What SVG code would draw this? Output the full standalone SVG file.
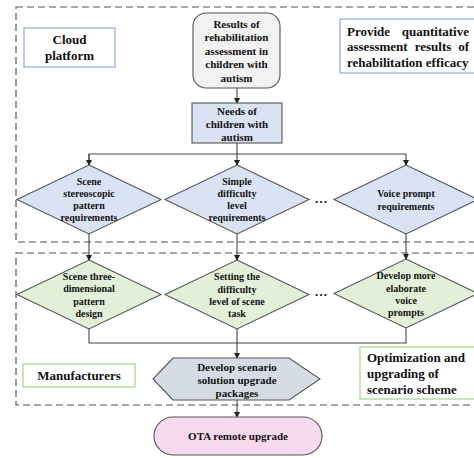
<svg xmlns="http://www.w3.org/2000/svg" width="474" height="458" viewBox="0 0 474 458">
<defs>
<marker id="ah" markerWidth="6" markerHeight="6" refX="5" refY="3" orient="auto" markerUnits="userSpaceOnUse">
<path d="M0,0 L6,3 L0,6 Z" fill="#222"/>
</marker>
<style>
text{font-family:"Liberation Serif","Times New Roman",serif;font-weight:bold;fill:#111;text-anchor:middle}
.dash{fill:none;stroke:#555;stroke-width:1.2;stroke-dasharray:7 4}
.lab{fill:#fff;stroke-width:1.2}
.blue{stroke:#8faadc}
.green{stroke:#a9d18e}
.node{stroke:#555;stroke-width:1.1}
.conn{fill:none;stroke:#444;stroke-width:1.1}
.t10{font-size:10px}
.t11{font-size:11px}
.t13{font-size:13px}
.st{text-anchor:start}
.en{text-anchor:end}
</style>
</defs>
<rect width="474" height="458" fill="#fff"/>
<g id="regions">
<rect class="dash" x="16" y="7" width="470" height="235"/>
<rect class="dash" x="16" y="253" width="470" height="152"/>
</g>
<g id="cloud-label">
<rect class="lab blue" x="24" y="28" width="91" height="39"/>
<text class="t13" x="69.5" y="44">Cloud</text>
<text class="t13" x="69.5" y="60">platform</text>
</g>
<g id="provide-label">
<rect class="lab blue" x="340" y="19" width="140" height="54"/>
<text class="t13 st" x="347" y="36">Provide</text>
<text class="t13 en" x="469" y="36">quantitative</text>
<text class="t13 st" x="347" y="51">assessment</text>
<text class="t13" x="433" y="51">results</text>
<text class="t13 en" x="469" y="51">of</text>
<text class="t13 st" x="347" y="67">rehabilitation efficacy</text>
</g>
<g id="manufacturers-label">
<rect class="lab green" x="23" y="364" width="112" height="23"/>
<text class="t13" x="79" y="380">Manufacturers</text>
</g>
<g id="optimization-label">
<rect class="lab green" x="360" y="347" width="120" height="52"/>
<text class="t13 st" x="367" y="362">Optimization and</text>
<text class="t13 st" x="367" y="378">upgrading of</text>
<text class="t13 st" x="367" y="394">scenario scheme</text>
</g>
<g id="connectors">
<line class="conn" x1="237" y1="88" x2="237" y2="103" marker-end="url(#ah)"/>
<line class="conn" x1="237" y1="143" x2="237" y2="165" marker-end="url(#ah)"/>
<polyline class="conn" points="89,165 89,154 406,154 406,165" marker-end="url(#ah)"/>
<path class="conn" d="M89,154 V165" marker-end="url(#ah)"/>
<line class="conn" x1="89" y1="234" x2="89" y2="260" marker-end="url(#ah)"/>
<line class="conn" x1="237" y1="234" x2="237" y2="260" marker-end="url(#ah)"/>
<line class="conn" x1="406" y1="234" x2="406" y2="259" marker-end="url(#ah)"/>
<polyline class="conn" points="89,329 89,343 406,343 406,328"/>
<line class="conn" x1="237" y1="329" x2="237" y2="358" marker-end="url(#ah)"/>
<line class="conn" x1="237" y1="400" x2="237" y2="417" marker-end="url(#ah)"/>
</g>
<g id="results">
<rect class="node" x="193" y="13" width="87" height="75" rx="13" fill="#f2f2f2"/>
<text class="t11" x="236.5" y="28">Results of</text>
<text class="t11" x="236.5" y="41">rehabilitation</text>
<text class="t11" x="236.5" y="55">assessment in</text>
<text class="t11" x="236.5" y="68">children with</text>
<text class="t11" x="236.5" y="82">autism</text>
</g>
<g id="needs">
<rect class="node" x="192" y="103" width="90" height="40" fill="#dae3f3"/>
<text class="t11" x="237" y="115">Needs of</text>
<text class="t11" x="237" y="128">children with</text>
<text class="t11" x="237" y="141">autism</text>
</g>
<g id="req-scene">
<polygon class="node" points="89,165 161,199.5 89,234 17,199.5" fill="#dae3f3"/>
<text class="t10" x="89" y="185">Scene</text>
<text class="t10" x="89" y="197">stereoscopic</text>
<text class="t10" x="89" y="209">pattern</text>
<text class="t10" x="89" y="221">requirements</text>
</g>
<g id="req-difficulty">
<polygon class="node" points="237,165 309,199.5 237,234 165,199.5" fill="#dae3f3"/>
<text class="t10" x="237" y="185">Simple</text>
<text class="t10" x="237" y="197">difficulty</text>
<text class="t10" x="237" y="209">level</text>
<text class="t10" x="237" y="221">requirements</text>
</g>
<text class="t13" x="321" y="203">…</text>
<g id="req-voice">
<polygon class="node" points="406,165 478,199.5 406,234 334,199.5" fill="#dae3f3"/>
<text class="t10" x="406" y="197">Voice prompt</text>
<text class="t10" x="406" y="210">requirements</text>
</g>
<g id="design-scene">
<polygon class="node" points="89,260 161,294.5 89,329 17,294.5" fill="#e2f0d9"/>
<text class="t10" x="89" y="280">Scene three-</text>
<text class="t10" x="89" y="292">dimensional</text>
<text class="t10" x="89" y="305">pattern</text>
<text class="t10" x="89" y="317">design</text>
</g>
<g id="design-difficulty">
<polygon class="node" points="237,260 309,294.5 237,329 165,294.5" fill="#e2f0d9"/>
<text class="t10" x="237" y="280">Setting the</text>
<text class="t10" x="237" y="293">difficulty</text>
<text class="t10" x="237" y="305">level of scene</text>
<text class="t10" x="237" y="317">task</text>
</g>
<text class="t13" x="321" y="296">…</text>
<g id="design-voice">
<polygon class="node" points="406,259 478,293.5 406,328 334,293.5" fill="#e2f0d9"/>
<text class="t10" x="406" y="279">Develop more</text>
<text class="t10" x="406" y="292">elaborate</text>
<text class="t10" x="406" y="304">voice</text>
<text class="t10" x="406" y="316">prompts</text>
</g>
<g id="upgrade-packages">
<polygon class="node" points="173,358 289,358 320,379 289,400 173,400 153,379" fill="#d6dce5"/>
<text class="t11" x="237" y="371">Develop scenario</text>
<text class="t11" x="237" y="384">solution upgrade</text>
<text class="t11" x="237" y="397">packages</text>
</g>
<g id="ota">
<rect class="node" x="154" y="417" width="168" height="38" rx="19" fill="#f9d9ef"/>
<text class="t11" x="238" y="440">OTA remote upgrade</text>
</g>
</svg>
